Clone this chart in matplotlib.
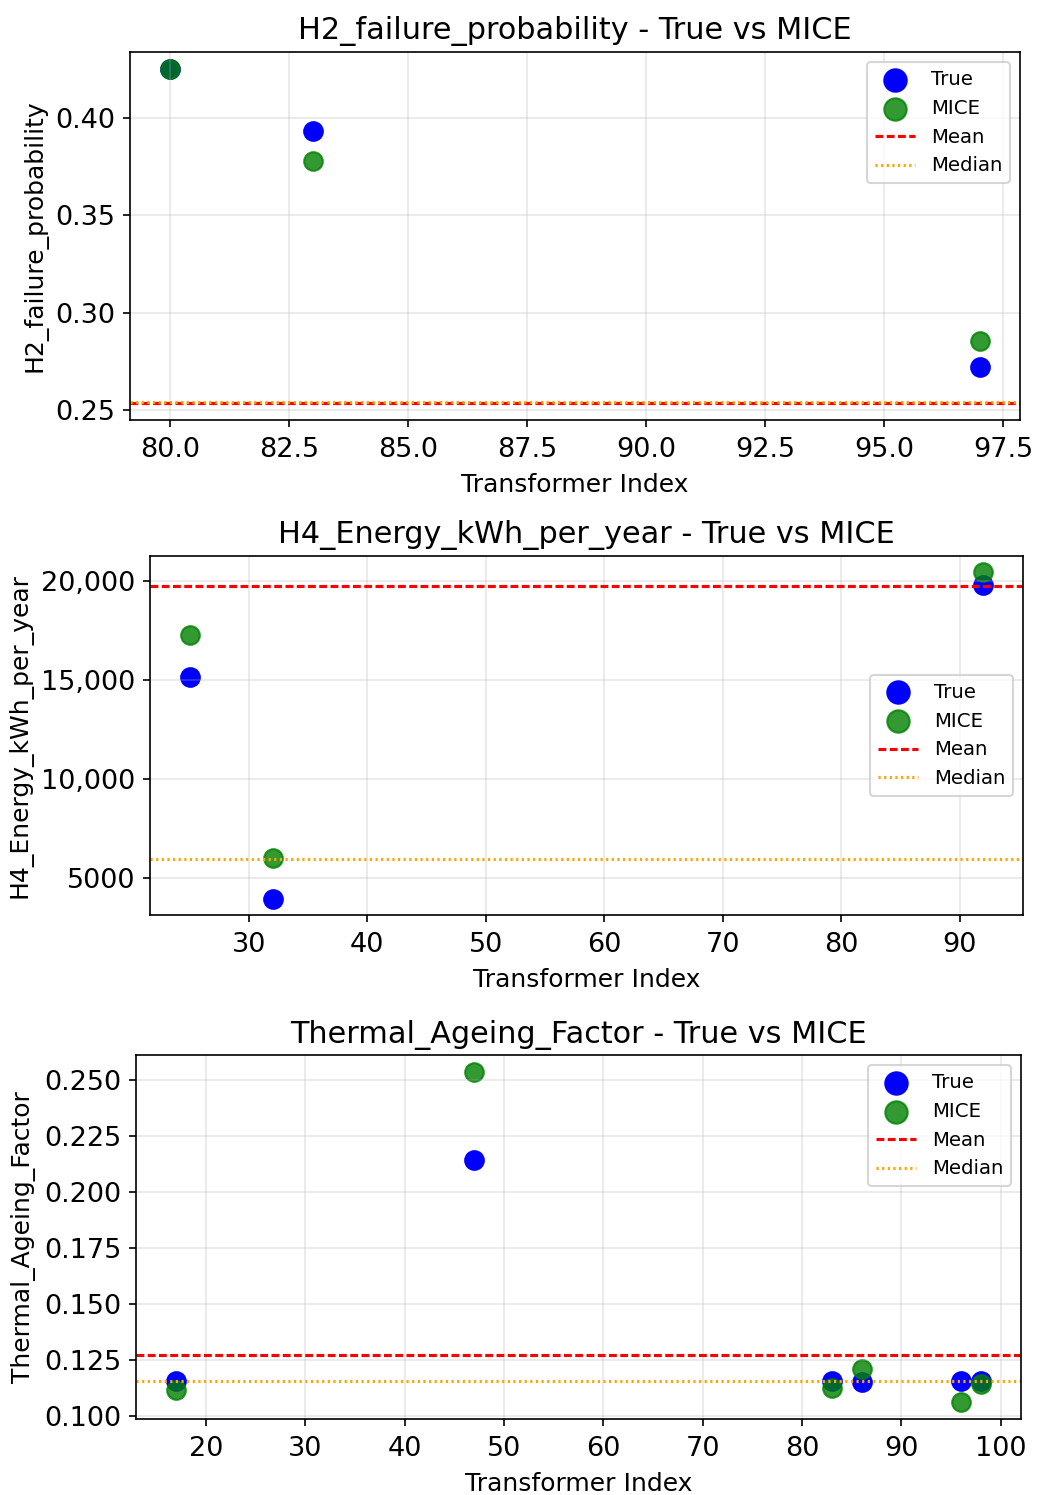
import matplotlib
matplotlib.use("Agg")
import matplotlib.pyplot as plt
from matplotlib.ticker import FuncFormatter, MultipleLocator

# values
h2_idx = [80, 83, 97]
h2_true = [0.4250, 0.3929, 0.2724]
h2_mice = [0.4250, 0.3776, 0.2857]
h2_mean = 0.2537
h2_median = 0.2546

h4_idx = [25, 32, 92]
h4_true = [15150, 3950, 19780]
h4_mice = [17260, 6000, 20420]
h4_mean = 19720
h4_median = 5960

taf_idx = [17, 47, 83, 86, 96, 98]
taf_true = [0.1154, 0.2140, 0.1153, 0.1149, 0.1153, 0.1153]
taf_mice = [0.1115, 0.2537, 0.1124, 0.1208, 0.1059, 0.1140]
taf_mean = 0.1269
taf_median = 0.1153

PANELS = [
    ("H2_failure_probability", h2_idx, h2_true, h2_mice, h2_mean, h2_median),
    ("H4_Energy_kWh_per_year", h4_idx, h4_true, h4_mice, h4_mean, h4_median),
    ("Thermal_Ageing_Factor", taf_idx, taf_true, taf_mice, taf_mean, taf_median),
]

W, H, DPI = 1046, 1495, 150
# axes boxes in pixels (left, top, right, bottom), measured on the reference
BOXES = [(130, 52, 1020, 420), (150, 556, 1023, 915), (136, 1055, 1021, 1419)]


def thousands(v, _pos):
    return f"{v:,.0f}" if abs(v) >= 10000 else f"{v:.0f}"


plt.rcParams["font.size"] = 12
plt.rcParams["xtick.labelsize"] = 13
plt.rcParams["ytick.labelsize"] = 13
plt.rcParams["xtick.major.pad"] = 4.5
fig = plt.figure(figsize=(W / DPI, H / DPI), dpi=DPI)

axes = []
for (l, t, r, b), (col, idx, tru, mice, mean, med) in zip(BOXES, PANELS):
    ax = fig.add_axes([l / W, 1 - b / H, (r - l) / W, (b - t) / H])
    ax.scatter(idx, tru, s=80, color="blue", label="True")
    ax.scatter(idx, mice, s=80, color="green", alpha=0.8, label="MICE")
    # short dash / dot period, as in the reference
    ax.axhline(mean, color="red", lw=1.5, linestyle=(0, (2.5, 1.1)), label="Mean")
    ax.axhline(med, color="orange", lw=1.5, linestyle=(0, (0.7, 1.1)), label="Median")
    ax.set_title(f"{col} - True vs MICE", fontsize=14.5)
    ax.set_xlabel("Transformer Index", labelpad=5)
    ax.set_ylabel(col)
    ax.grid(True, alpha=0.3)
    ax.legend(fontsize=9.5, markerscale=1.2)
    axes.append(ax)

axes[1].yaxis.set_major_formatter(FuncFormatter(thousands))
axes[2].yaxis.set_major_locator(MultipleLocator(0.025))

fig.savefig("out.png", dpi=DPI)
